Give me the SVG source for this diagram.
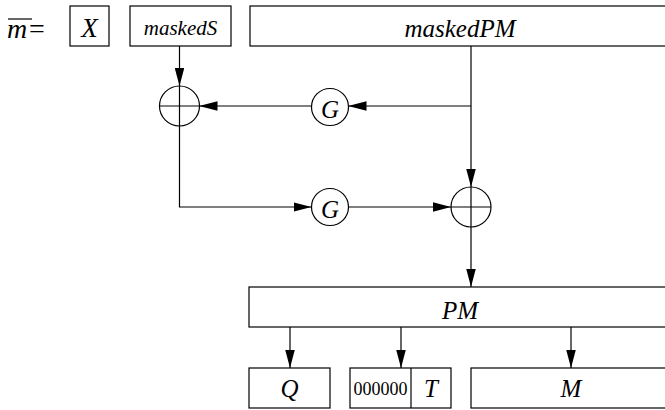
<svg xmlns="http://www.w3.org/2000/svg" width="665" height="410" viewBox="0 0 665 410">
<style>
.b{fill:#fff;stroke:#000;stroke-width:1.2}
.c{fill:none;stroke:#000;stroke-width:1.2}
text{font-family:"Liberation Serif","Times New Roman","DejaVu Serif",serif}
.t{font-style:italic;font-size:25px;text-anchor:middle}
.s{font-size:18px;text-anchor:middle}
</style>
<defs>
<marker id="a" viewBox="0 0 10 10" refX="10" refY="5" markerWidth="18" markerHeight="9.5" markerUnits="userSpaceOnUse" orient="auto" preserveAspectRatio="none">
<path d="M0,0 L10,5 L0,10 z" fill="#000"/>
</marker>
</defs>
<g id="mbar">
<text x="7" y="38" font-style="italic" font-size="28">m</text>
<line x1="8" y1="19" x2="32" y2="19" stroke="#000" stroke-width="1.2"/>
<text x="29" y="38" font-size="28">=</text>
</g>
<g id="X"><rect class="b" x="70" y="6" width="39" height="40"/><text class="t" x="89.5" y="37" style="font-size:27px">X</text></g>
<g id="maskedS"><rect class="b" x="130" y="6" width="101" height="40"/><text class="t" x="180.5" y="35" style="font-size:21px">maskedS</text></g>
<g id="maskedPM"><rect class="b" x="250" y="6" width="420" height="40"/><text class="t" x="460" y="37">maskedPM</text></g>
<g id="xor1"><circle class="c" cx="179.5" cy="106" r="20"/><line class="c" x1="159.5" y1="106" x2="199.5" y2="106"/><line class="c" x1="179.5" y1="86" x2="179.5" y2="126"/></g>
<g id="xor2"><circle class="c" cx="471" cy="207" r="20"/><line class="c" x1="451" y1="207" x2="491" y2="207"/><line class="c" x1="471" y1="187" x2="471" y2="227"/></g>
<g id="G1"><circle class="c" cx="330" cy="107" r="18.5"/><text class="t" x="330" y="118">G</text></g>
<g id="G2"><circle class="c" cx="330" cy="207" r="18.5"/><text class="t" x="330" y="218">G</text></g>
<g id="PM"><rect class="b" x="249" y="287" width="421" height="40"/><text class="t" x="460" y="319">PM</text></g>
<g id="Q"><rect class="b" x="249" y="368" width="81" height="40"/><text class="t" x="289.5" y="397">Q</text></g>
<g id="T"><rect class="b" x="350" y="368" width="101" height="40"/><line class="c" x1="411" y1="368" x2="411" y2="408"/><text class="s" x="380.5" y="395">000000</text><text class="t" x="431" y="397">T</text></g>
<g id="M"><rect class="b" x="471" y="368" width="199" height="40"/><text class="t" x="571" y="397">M</text></g>
<g id="connectors">
<line class="c" x1="179.5" y1="46" x2="179.5" y2="86" marker-end="url(#a)"/>
<line class="c" x1="471" y1="46" x2="471" y2="187" marker-end="url(#a)"/>
<polyline class="c" points="471,106 348.5,106" marker-end="url(#a)"/>
<line class="c" x1="311.5" y1="106" x2="199.5" y2="106" marker-end="url(#a)"/>
<polyline class="c" points="179.5,126 179.5,207 311.5,207" marker-end="url(#a)"/>
<line class="c" x1="348.5" y1="207" x2="451" y2="207" marker-end="url(#a)"/>
<line class="c" x1="471" y1="227" x2="471" y2="287" marker-end="url(#a)"/>
<line class="c" x1="290" y1="327" x2="290" y2="368" marker-end="url(#a)"/>
<line class="c" x1="401" y1="327" x2="401" y2="368" marker-end="url(#a)"/>
<line class="c" x1="571" y1="327" x2="571" y2="368" marker-end="url(#a)"/>
</g>
</svg>
